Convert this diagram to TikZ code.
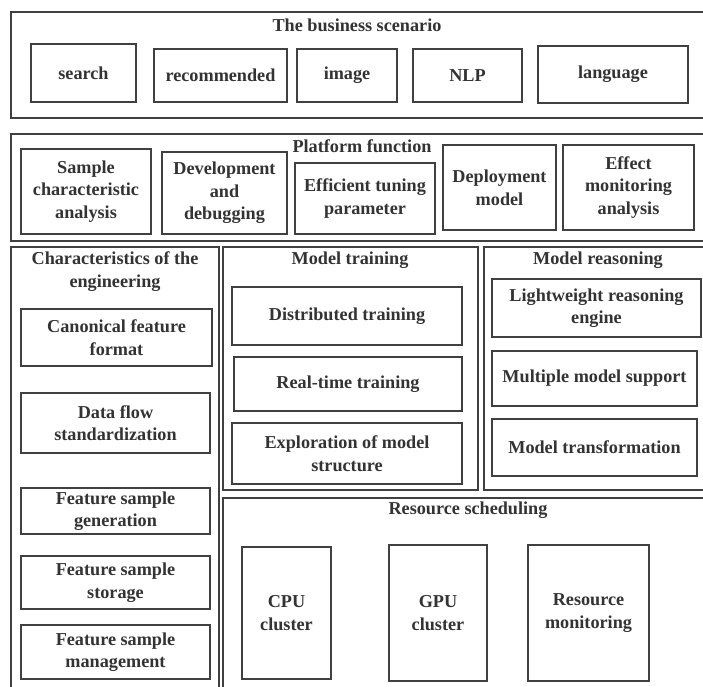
\documentclass[tikz,border=0pt]{standalone}
\usepackage{fontspec}
\setmainfont{Liberation Serif}
\definecolor{linec}{HTML}{404040}
\definecolor{textc}{HTML}{333333}
\newcommand\fsz{\fontsize{18.2}{22.6}\selectfont\bfseries}
\begin{document}
\begin{tikzpicture}[x=1pt,y=-1pt,
  box/.style={draw=linec, line width=1.2pt, align=center, inner sep=0pt, font=\fsz, text=textc},
  frame/.style={draw=linec, line width=1.2pt},
  ttl/.style={align=center, font=\fsz, text=textc, inner sep=0pt}]
\clip (0,0) rectangle (703,686);
\fill[white] (0,0) rectangle (703,686);
% frames
\draw[frame] (11,12) rectangle (712,118);
\draw[frame] (11,134) rectangle (712,241);
\draw[frame] (11,247) rectangle (219,700);
\draw[frame] (223,247) rectangle (478,490);
\draw[frame] (484,247) rectangle (712,490);
\draw[frame] (223,498) rectangle (712,700);
% titles
\node[ttl] (tbiz) at (357,25) {The business scenario};
\node[ttl] (tplat) at (362,146.5) {Platform function};
\node[ttl] (teng) at (115,271.5) {Characteristics of the\\engineering};
\node[ttl] (ttrain) at (350,260.5) {Model training};
\node[ttl] (treas) at (598,260.5) {Model reasoning};
\node[ttl] (tres) at (468,510.5) {Resource scheduling};
% business
\node[box, minimum width=105pt, minimum height=58pt] (search) at (83.5,73) {search};
\node[box, minimum width=133pt, minimum height=53pt] (recom) at (220.5,75.5) {recommended};
\node[box, minimum width=100pt, minimum height=53pt] (image) at (347,75.5) {image};
\node[box, minimum width=109pt, minimum height=53pt] (nlp) at (467.5,75.5) {NLP};
\node[box, minimum width=150pt, minimum height=57pt] (lang) at (613,74.5) {language};
% platform
\node[box, minimum width=130pt, minimum height=85pt] (sample) at (86,191.5) {Sample\\characteristic\\analysis};
\node[box, minimum width=125pt, minimum height=82pt] (dev) at (224.5,193) {Development\\and\\debugging};
\node[box, minimum width=140pt, minimum height=71pt] (tune) at (365,198.5) {Efficient tuning\\parameter};
\node[box, minimum width=113pt, minimum height=85pt] (deploy) at (499.5,187.5) {Deployment\\model};
\node[box, minimum width=131pt, minimum height=85pt] (effect) at (628.5,187.5) {Effect\\monitoring\\analysis};
% model training
\node[box, minimum width=230pt, minimum height=58pt] (dist) at (347,316) {Distributed training};
\node[box, minimum width=228pt, minimum height=54pt] (rt) at (348,384) {Real-time training};
\node[box, minimum width=230pt, minimum height=61pt] (expl) at (347,453.5) {Exploration of model\\structure};
% model reasoning
\node[box, minimum width=209pt, minimum height=58pt] (light) at (596.5,308) {Lightweight reasoning\\engine};
\node[box, minimum width=205pt, minimum height=55pt] (multi) at (594.5,378.5) {Multiple model support};
\node[box, minimum width=205pt, minimum height=57pt] (trans) at (594.5,447.5) {Model transformation};
% engineering
\node[box, minimum width=191pt, minimum height=57pt] (canon) at (116.5,337.5) {Canonical feature\\format};
\node[box, minimum width=189pt, minimum height=60pt] (flow) at (115.5,423) {Data flow\\standardization};
\node[box, minimum width=189pt, minimum height=46pt] (gen) at (115.5,511) {Feature sample\\generation};
\node[box, minimum width=189pt, minimum height=53pt] (stor) at (115.5,582.5) {Feature sample\\storage};
\node[box, minimum width=189pt, minimum height=54pt] (mgmt) at (115.5,652) {Feature sample\\management};
% resources
\node[box, minimum width=89pt, minimum height=132pt] (cpu) at (286.5,613) {CPU\\cluster};
\node[box, minimum width=98pt, minimum height=136pt] (gpu) at (438,613) {GPU\\cluster};
\node[box, minimum width=121pt, minimum height=136pt] (mon) at (588.5,613) {Resource\\monitoring};
\end{tikzpicture}
\end{document}
